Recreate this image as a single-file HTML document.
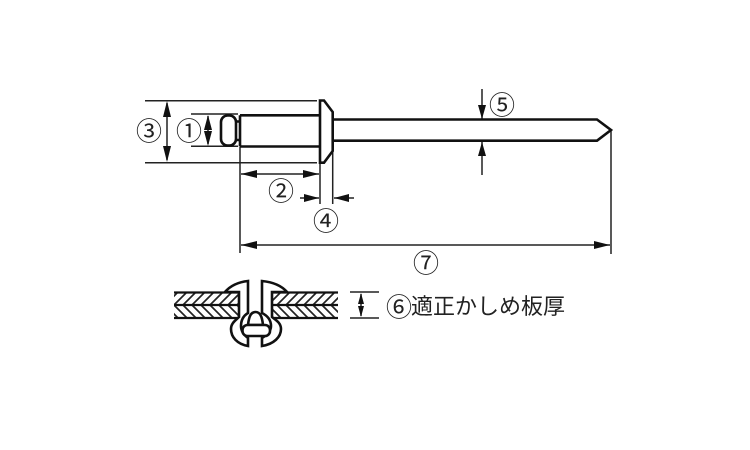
<!DOCTYPE html>
<html><head><meta charset="utf-8"><style>
html,body{margin:0;padding:0;background:#fff}
svg{display:block}
text{font-family:"Liberation Sans","Noto Sans CJK JP",sans-serif;fill:#222}
</style></head><body>
<svg width="750" height="450" viewBox="0 0 750 450" xmlns="http://www.w3.org/2000/svg">
<defs>
<clipPath id="t"><path d="M174 292H241V305H174ZM272 292H338V305H272Z"/></clipPath>
<clipPath id="b"><path d="M174 305H241V318H174ZM272 305H338V318H272Z"/></clipPath>
</defs>
<!-- thin dimension lines -->
<g stroke="#222" stroke-width="1.5" fill="none">
<path d="M145 100.7H317M145 162.7H317M191 114H238M191 146.3H238"/>
<path d="M167 103V160M208 116V144"/>
<path d="M240 147V253M320 163V204M332.7 151V204M611 131V254"/>
<path d="M241 174H319M300 198H319M334 198H354"/>
<path d="M482 89V119M482 142V175"/>
<path d="M241 245H610"/>
<path d="M350 292H379M350 318H379M361 294V316"/>
</g>
<!-- arrowheads -->
<g fill="#111">
<path d="M167 101L163 117H171ZM167 162L163 146H171Z"/>
<path d="M208 115L204 130H212ZM208 146L204 131H212Z"/>
<path d="M241 174L257 170V178ZM319 174L303 170V178Z"/>
<path d="M319 198L304 194V202ZM334 198L349 194V202Z"/>
<path d="M482 119L478 105H486ZM482 142L478 156H486Z"/>
<path d="M241 245L257 241V249ZM610 245L594 241V249Z"/>
<path d="M361 293L358 304H364ZM361 317L358 306H364Z"/>
</g>
<!-- rivet -->
<g stroke="#111" stroke-width="2.6" fill="none" stroke-linejoin="miter">
<rect x="221" y="115.5" width="15" height="30" rx="6.5"/>
<path d="M236 121.5H240M236 140H240"/>
<path d="M240 115.3V146.5M240 115.3H320M240 146.5H320"/>
<path d="M320 100.5H324L332.7 112V151L324 162.7H320Z"/>
<path d="M333 119.5H597L611 130L597 140.7H333"/>
</g>
<!-- plates hatching -->
<g stroke="#222" stroke-width="1.7" clip-path="url(#t)">
<path d="M165 305L178 292M174 305L187 292M183 305L196 292M192 305L205 292M201 305L214 292M210 305L223 292M219 305L232 292M228 305L241 292M237 305L250 292M268 305L281 292M277 305L290 292M286 305L299 292M295 305L308 292M304 305L317 292M313 305L326 292M322 305L335 292M331 305L344 292"/>
</g>
<g stroke="#222" stroke-width="1.7" clip-path="url(#b)">
<path d="M165 305L178 318M174 305L187 318M183 305L196 318M192 305L205 318M201 305L214 318M210 305L223 318M219 305L232 318M228 305L241 318M237 305L250 318M268 305L281 318M277 305L290 318M286 305L299 318M295 305L308 318M304 305L317 318M313 305L326 318M322 305L335 318M331 305L344 318"/>
</g>
<g stroke="#111" stroke-width="2.2" fill="none">
<path d="M174 292.5H239M174 305H239M174 318H239M272 292.5H338M272 305H338M272 318H338"/>
</g>
<!-- set rivet section -->
<g stroke="#111" stroke-width="2.6" fill="#fff">
<path d="M225 292C231 285 239 282 248 281V313C243 316 241 320 241 326C241 331 244 335 248 338V346C237 344 231 337 231 329C231 323 236 320 239 317V292Z" />
<path d="M287 292C281 285 272 282 262 281V313C268 316 271 320 271 326C271 331 267 335 262 338V346C274 344 281 337 281 329C281 323 276 320 272 317V292Z"/>
<path d="M248 325C249 316 251 312 255.500 312C260 312 262 316 263 325Z"/>
<rect x="242.500" y="325" width="27.500" height="11" rx="5"/>
</g>
<!-- labels -->
<g font-size="26" text-anchor="middle">
<text x="149" y="140.400">③</text>
<text x="189" y="140.400">①</text>
<text x="281" y="200.400">②</text>
<text x="326" y="230.400">④</text>
<text x="502" y="114.400">⑤</text>
<text x="426" y="272.400">⑦</text>
<text x="399" y="316.400">⑥</text>
</g>
<text x="411" y="314" font-size="22">適正かしめ板厚</text>
</svg>
</body></html>
